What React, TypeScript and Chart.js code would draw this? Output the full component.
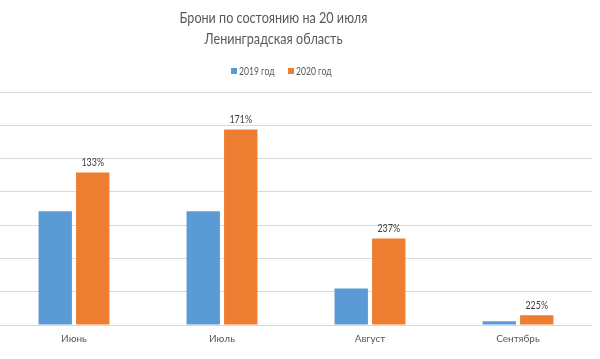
import React, { useEffect, useRef } from "react";
import { Chart, registerables } from "chart.js";

Chart.register(...registerables);

const titleLines = ["Брони по состоянию на 20 июля", "Ленинградская область"];
const categories = ["Июнь", "Июль", "Август", "Сентябрь"];
const seriesNames = ["2019 год", "2020 год"];
const values2019 = [3.42, 3.42, 1.1, 0.11];
const values2020 = [4.58, 5.87, 2.6, 0.29];
const labels2020 = ["133%", "171%", "237%", "225%"];
const colors = ["#5b9bd5", "#ed7d31"];

const FONT = "Lato, 'Open Sans', sans-serif";

function condensedText(ctx: any, text: string, x: number, y: number, sx: number) {
  ctx.save();
  ctx.translate(x, y);
  ctx.scale(sx, 1);
  ctx.fillText(text, 0, 0);
  ctx.restore();
}

const overlayPlugin = {
  id: "overlay",
  afterDraw(chart: any) {
    const ctx = chart.ctx;
    ctx.save();
    // title
    ctx.fillStyle = "#595959";
    ctx.font = `15px ${FONT}`;
    ctx.textAlign = "center";
    ctx.textBaseline = "middle";
    condensedText(ctx, titleLines[0], 273.5, 18.5, 0.84);
    condensedText(ctx, titleLines[1], 273.5, 39.5, 0.84);
    // legend
    ctx.font = `11px ${FONT}`;
    ctx.textAlign = "left";
    const legendX = [231, 288];
    seriesNames.forEach((n, i) => {
      ctx.fillStyle = colors[i];
      ctx.fillRect(legendX[i], 68, 6, 6);
      ctx.fillStyle = "#595959";
      condensedText(ctx, n, legendX[i] + 8, 71.5, 0.78);
    });
    // data labels
    const meta = chart.getDatasetMeta(1);
    ctx.font = `10.5px ${FONT}`;
    ctx.fillStyle = "#404040";
    ctx.textAlign = "center";
    meta.data.forEach((bar: any, i: number) => {
      condensedText(ctx, labels2020[i], bar.x, bar.y - 10, 0.85);
    });
    ctx.restore();
  },
};

export default function App() {
  const ref = useRef<HTMLCanvasElement>(null);
  useEffect(() => {
    const chart = new Chart(ref.current!, {
      type: "bar",
      data: {
        labels: categories,
        datasets: [
          {
            label: seriesNames[0],
            data: values2019,
            backgroundColor: colors[0],
            categoryPercentage: 0.507,
            barPercentage: 0.89,
          },
          {
            label: seriesNames[1],
            data: values2020,
            backgroundColor: colors[1],
            categoryPercentage: 0.507,
            barPercentage: 0.89,
          },
        ],
      },
      options: {
        animation: false,
        responsive: false,
        maintainAspectRatio: false,
        layout: { padding: { top: 92, right: 8, left: 0, bottom: 6 } },
        plugins: {
          legend: { display: false },
          title: { display: false },
          tooltip: { enabled: false },
        },
        scales: {
          x: {
            grid: { display: false, drawTicks: false },
            border: { display: false },
            ticks: {
              color: "#595959",
              font: { family: FONT, size: 10 },
              padding: 8,
            },
          },
          y: {
            min: 0,
            max: 7,
            grid: { color: "#d9d9d9", lineWidth: 1, drawTicks: false },
            border: { display: false },
            ticks: { display: false, stepSize: 1 },
          },
        },
      },
      plugins: [overlayPlugin],
    });
    return () => chart.destroy();
  }, []);
  return (
    <div style={{ position: "fixed", left: 0, top: 0, width: 600, height: 359, background: "#fff" }}>
      <canvas ref={ref} width={600} height={359} style={{ width: 600, height: 359 }} />
    </div>
  );
}
